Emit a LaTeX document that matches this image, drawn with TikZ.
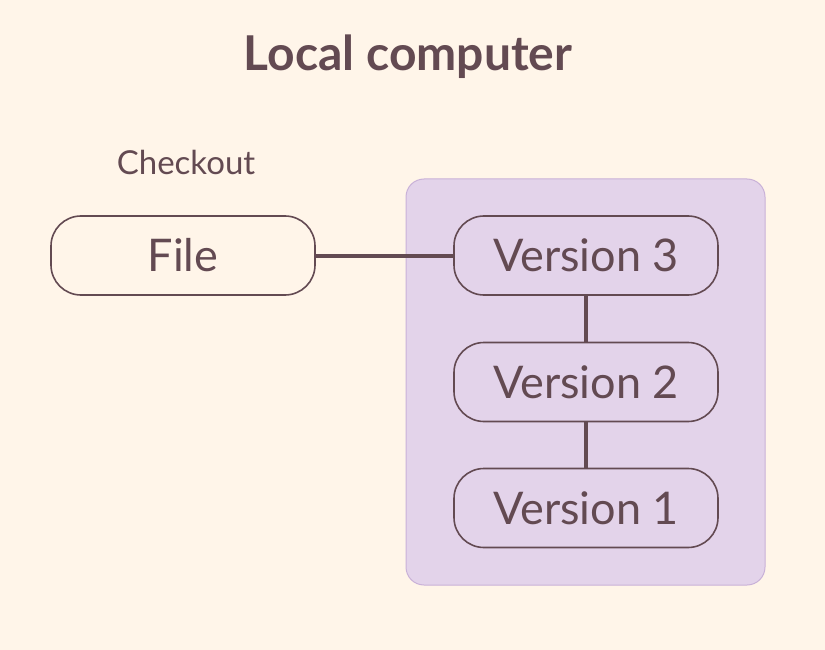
\documentclass[tikz,border=0pt]{standalone}
\usepackage{fontspec}
\setmainfont{Lato}
\definecolor{bgc}{HTML}{FFF5E9}
\definecolor{ink}{HTML}{634A52}
\definecolor{boxfill}{HTML}{E3D3EA}
\definecolor{boxline}{HTML}{C9B1D8}
\begin{document}
\begin{tikzpicture}[x=1pt,y=-1pt,
  pill/.style={draw=ink, line width=1.6pt, rounded corners=30pt, minimum width=264pt, minimum height=79pt, text=ink, font=\fontsize{45}{50}\selectfont, inner sep=0pt},
  link/.style={draw=ink, line width=4pt}]
\fill[bgc] (0,0) rectangle (825,650);
\useasboundingbox (0,0) rectangle (825,650);
\node[text=ink, font=\bfseries\fontsize{48}{52}\selectfont] (title) at (408,57) {Local computer};
\node[text=ink, font=\fontsize{33}{36}\selectfont] (checkout) at (186,162) {Checkout};
\node[draw=boxline, fill=boxfill, line width=1pt, rounded corners=18pt, minimum width=359pt, minimum height=406pt] (frame) at (585.5,382) {};
\node[pill] (file) at (183,255.5) {File};
\node[pill] (v3) at (586,255.5) {Version 3};
\node[pill] (v2) at (586,382) {Version 2};
\node[pill] (v1) at (586,508) {Version 1};
\draw[link] (file) -- (v3);
\draw[link] (v3) -- (v2);
\draw[link] (v2) -- (v1);
\end{tikzpicture}
\end{document}
